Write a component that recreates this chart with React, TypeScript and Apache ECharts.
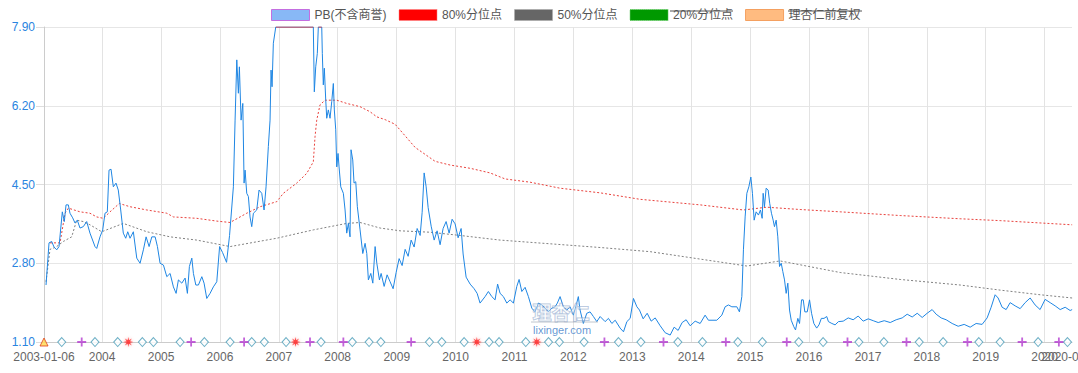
import React, { useEffect, useRef } from "react";
import * as echarts from "echarts";

// PB (excluding goodwill): [decimal year, value]
const pbData: [number, number][] = [
  [2003.048, 2.33], [2003.099, 3.24], [2003.145, 3.27], [2003.184, 3.15], [2003.23, 3.09], [2003.269, 3.16],
  [2003.325, 3.91], [2003.359, 3.7], [2003.388, 4.06], [2003.427, 4.06], [2003.455, 3.88], [2003.501, 3.78],
  [2003.54, 3.67], [2003.579, 3.73], [2003.625, 3.56], [2003.681, 3.59], [2003.739, 3.7], [2003.795, 3.45],
  [2003.88, 3.16], [2003.909, 3.12], [2003.965, 3.37], [2004.011, 3.52], [2004.05, 3.88], [2004.089, 3.91],
  [2004.118, 4.81], [2004.152, 4.83], [2004.191, 4.45], [2004.236, 4.53], [2004.275, 4.38], [2004.316, 3.95],
  [2004.36, 3.45], [2004.401, 3.34], [2004.435, 3.48], [2004.474, 3.34], [2004.53, 3.48], [2004.588, 2.91],
  [2004.644, 2.8], [2004.7, 3.09], [2004.746, 3.37], [2004.797, 3.16], [2004.843, 3.37], [2004.899, 3.37],
  [2004.938, 3.16], [2004.983, 2.8], [2005.04, 2.76], [2005.097, 2.51], [2005.153, 2.58], [2005.209, 2.29],
  [2005.255, 2.15], [2005.294, 2.44], [2005.352, 2.37], [2005.408, 2.48], [2005.447, 2.15], [2005.481, 2.73],
  [2005.522, 2.91], [2005.549, 2.58], [2005.59, 2.33], [2005.634, 2.33], [2005.692, 2.51], [2005.73, 2.37],
  [2005.776, 2.04], [2005.832, 2.15], [2005.888, 2.29], [2005.946, 2.4], [2005.994, 3.16], [2006.045, 3.03],
  [2006.112, 2.82], [2006.163, 3.4], [2006.228, 4.45], [2006.257, 5.89], [2006.286, 7.19], [2006.313, 6.47],
  [2006.33, 7.04], [2006.359, 5.89], [2006.388, 6.25], [2006.41, 4.53], [2006.427, 4.81], [2006.455, 4.31],
  [2006.483, 4.24], [2006.511, 3.8], [2006.54, 3.59], [2006.568, 3.88], [2006.625, 3.95], [2006.664, 4.38],
  [2006.71, 4.31], [2006.749, 3.95], [2006.783, 4.45], [2006.822, 5.32], [2006.851, 5.89], [2006.868, 6.97],
  [2006.885, 6.61], [2006.907, 7.55], [2006.948, 7.9], [2007.191, 7.9], [2007.586, 7.9], [2007.603, 6.5],
  [2007.627, 7.04], [2007.654, 7.33], [2007.671, 7.9], [2007.729, 7.9], [2007.739, 7.33], [2007.756, 6.65],
  [2007.773, 7.01], [2007.797, 6.32], [2007.814, 5.93], [2007.841, 6.11], [2007.87, 5.93], [2007.899, 6.29],
  [2007.926, 6.68], [2007.943, 6.11], [2007.967, 5.68], [2007.984, 4.88], [2008.006, 5.17], [2008.023, 4.88],
  [2008.052, 4.45], [2008.096, 4.31], [2008.125, 3.95], [2008.153, 3.45], [2008.181, 3.66], [2008.209, 3.37],
  [2008.226, 5.25], [2008.255, 5.03], [2008.277, 4.53], [2008.306, 4.56], [2008.333, 4.02], [2008.379, 3.52],
  [2008.425, 3.01], [2008.464, 3.23], [2008.493, 3.01], [2008.52, 2.44], [2008.561, 2.58], [2008.595, 2.37],
  [2008.634, 3.16], [2008.663, 2.8], [2008.707, 2.44], [2008.736, 2.58], [2008.787, 2.3], [2008.837, 2.55],
  [2008.888, 2.4], [2008.939, 2.25], [2008.99, 2.6], [2009.041, 2.9], [2009.092, 2.75], [2009.143, 3.1],
  [2009.194, 2.95], [2009.245, 3.3], [2009.296, 3.15], [2009.347, 3.55], [2009.398, 3.4], [2009.432, 3.9],
  [2009.466, 4.75], [2009.5, 4.45], [2009.534, 4.0], [2009.585, 3.6], [2009.636, 3.3], [2009.686, 3.5],
  [2009.737, 3.2], [2009.788, 3.55], [2009.839, 3.7], [2009.89, 3.45], [2009.941, 3.75], [2009.992, 3.65],
  [2010.043, 3.35], [2010.094, 3.55], [2010.128, 3.0], [2010.179, 2.5], [2010.247, 2.35], [2010.315, 2.25],
  [2010.366, 2.15], [2010.416, 1.94], [2010.501, 2.08], [2010.557, 2.19], [2010.615, 2.08], [2010.671, 2.01],
  [2010.714, 2.35], [2010.756, 2.15], [2010.812, 2.08], [2010.87, 1.94], [2010.926, 2.01], [2010.982, 1.94],
  [2011.04, 2.3], [2011.079, 2.45], [2011.125, 2.19], [2011.181, 2.28], [2011.237, 2.08], [2011.295, 1.83],
  [2011.35, 1.75], [2011.406, 1.94], [2011.464, 1.9], [2011.52, 1.83], [2011.576, 1.75], [2011.634, 1.83],
  [2011.69, 1.86], [2011.729, 1.94], [2011.775, 2.08], [2011.831, 1.86], [2011.889, 1.79], [2011.945, 1.86],
  [2012.001, 1.68], [2012.058, 1.94], [2012.085, 2.08], [2012.114, 1.79], [2012.17, 1.5], [2012.228, 1.72],
  [2012.284, 1.75], [2012.34, 1.65], [2012.398, 1.54], [2012.454, 1.65], [2012.539, 1.54], [2012.595, 1.61],
  [2012.653, 1.5], [2012.709, 1.57], [2012.793, 1.4], [2012.85, 1.32], [2012.907, 1.54], [2012.963, 1.61],
  [2013.019, 2.04], [2013.077, 1.86], [2013.121, 1.79], [2013.184, 1.6], [2013.252, 1.72], [2013.32, 1.55],
  [2013.388, 1.62], [2013.473, 1.45], [2013.558, 1.3], [2013.643, 1.25], [2013.71, 1.42], [2013.778, 1.35],
  [2013.846, 1.52], [2013.914, 1.58], [2013.982, 1.45], [2014.067, 1.55], [2014.152, 1.5], [2014.236, 1.68],
  [2014.292, 1.57], [2014.435, 1.57], [2014.52, 1.68], [2014.576, 1.86], [2014.632, 1.9], [2014.69, 1.86],
  [2014.775, 1.86], [2014.819, 1.75], [2014.86, 2.08], [2014.887, 3.09], [2014.916, 3.8], [2014.945, 4.31],
  [2014.979, 4.45], [2015.013, 4.66], [2015.04, 4.31], [2015.069, 3.73], [2015.103, 3.91], [2015.142, 3.84],
  [2015.176, 3.95], [2015.205, 3.77], [2015.222, 4.31], [2015.244, 4.02], [2015.273, 4.42], [2015.307, 4.38],
  [2015.334, 4.09], [2015.363, 3.88], [2015.392, 3.73], [2015.414, 3.59], [2015.443, 3.73], [2015.471, 3.37],
  [2015.5, 2.73], [2015.529, 2.8], [2015.556, 2.62], [2015.585, 2.44], [2015.613, 2.15], [2015.641, 2.37],
  [2015.67, 1.79], [2015.699, 1.57], [2015.743, 1.43], [2015.772, 1.36], [2015.811, 1.61], [2015.84, 1.5],
  [2015.874, 2.01], [2015.903, 2.01], [2015.93, 1.75], [2015.971, 1.75], [2016.01, 2.01], [2016.044, 1.72],
  [2016.083, 1.5], [2016.131, 1.4], [2016.17, 1.47], [2016.21, 1.61], [2016.255, 1.61], [2016.301, 1.65],
  [2016.33, 1.54], [2016.388, 1.5], [2016.443, 1.47], [2016.5, 1.54], [2016.58, 1.55], [2016.665, 1.62],
  [2016.749, 1.58], [2016.834, 1.66], [2016.919, 1.55], [2017.004, 1.6], [2017.089, 1.56], [2017.174, 1.52],
  [2017.276, 1.56], [2017.378, 1.52], [2017.479, 1.58], [2017.581, 1.62], [2017.666, 1.7], [2017.751, 1.64],
  [2017.836, 1.72], [2017.921, 1.63], [2018.005, 1.72], [2018.09, 1.8], [2018.158, 1.7], [2018.243, 1.62],
  [2018.328, 1.58], [2018.43, 1.5], [2018.532, 1.44], [2018.634, 1.48], [2018.736, 1.42], [2018.837, 1.5],
  [2018.939, 1.48], [2019.024, 1.62], [2019.092, 1.85], [2019.16, 2.12], [2019.211, 2.05], [2019.279, 1.85],
  [2019.347, 1.8], [2019.415, 1.95], [2019.5, 1.88], [2019.585, 1.82], [2019.67, 1.95], [2019.755, 2.05],
  [2019.839, 1.9], [2019.924, 1.8], [2020.009, 2.02], [2020.094, 1.95], [2020.179, 1.88], [2020.264, 1.8],
  [2020.349, 1.85], [2020.433, 1.78], [2020.467, 1.8],
];

// 80% percentile line
const p80Data: [number, number][] = [
  [2003.116, 3.24], [2003.286, 3.24], [2003.371, 3.88], [2003.427, 3.99], [2003.625, 3.91], [2003.795, 3.88],
  [2003.909, 3.8], [2004.021, 3.77], [2004.135, 3.91], [2004.292, 4.09], [2004.474, 4.02], [2004.758, 3.95],
  [2005.097, 3.88], [2005.209, 3.8], [2005.607, 3.77], [2005.946, 3.71], [2006.172, 3.68], [2006.455, 3.88],
  [2006.681, 4.02], [2006.965, 4.13], [2007.077, 4.31], [2007.304, 4.53], [2007.474, 4.74], [2007.586, 4.99],
  [2007.615, 5.53], [2007.644, 5.89], [2007.7, 6.22], [2007.785, 6.32], [2007.984, 6.32], [2008.153, 6.25],
  [2008.379, 6.18], [2008.549, 6.07], [2008.663, 5.96], [2008.804, 5.9], [2008.973, 5.8], [2009.143, 5.55],
  [2009.313, 5.3], [2009.483, 5.15], [2009.652, 5.0], [2009.907, 4.92], [2010.247, 4.85], [2010.586, 4.75],
  [2010.841, 4.62], [2011.265, 4.55], [2011.775, 4.42], [2012.454, 4.32], [2013.133, 4.18], [2013.812, 4.1],
  [2014.152, 4.06], [2014.887, 3.95], [2015.284, 4.01], [2015.85, 3.96], [2016.529, 3.91], [2017.547, 3.83],
  [2018.566, 3.76], [2019.245, 3.72], [2019.924, 3.67], [2020.467, 3.63],
];

// 50% percentile line
const p50Data: [number, number][] = [
  [2003.048, 2.4], [2003.116, 3.1], [2003.218, 3.15], [2003.342, 3.27], [2003.484, 3.37], [2003.569, 3.73],
  [2003.681, 3.7], [2003.795, 3.63], [2003.994, 3.48], [2004.36, 3.66], [2004.758, 3.48], [2005.153, 3.37],
  [2005.607, 3.3], [2006.172, 3.16], [2006.965, 3.34], [2007.586, 3.52], [2008.153, 3.66], [2008.379, 3.68],
  [2008.719, 3.56], [2009.058, 3.5], [2009.568, 3.47], [2010.077, 3.4], [2010.756, 3.3], [2011.605, 3.22],
  [2012.454, 3.14], [2013.303, 3.05], [2014.152, 2.89], [2014.945, 2.74], [2015.51, 2.85], [2016.529, 2.6],
  [2017.547, 2.45], [2018.566, 2.33], [2019.245, 2.22], [2019.924, 2.12], [2020.467, 2.05],
];

// event markers (decimal years)
const startMark = [2003.014];
const diamondMarks = [
  2003.315, 2003.88, 2004.265, 2004.683, 2004.87, 2005.323, 2005.736, 2006.172, 2006.54, 2006.754,
  2007.123, 2007.717, 2008.248, 2008.532, 2008.731, 2009.556, 2009.766, 2010.145, 2010.569, 2010.739,
  2011.192, 2011.579, 2011.763, 2012.182, 2012.765, 2013.145, 2013.773, 2014.191, 2014.792, 2015.209,
  2015.827, 2016.24, 2016.846, 2017.27, 2017.87, 2018.277, 2018.883, 2019.245, 2019.89, 2020.388,
];
const plusMarks = [
  2003.654, 2005.51, 2006.41, 2007.53, 2008.096, 2009.245, 2012.527, 2013.529, 2014.588, 2015.623,
  2016.653, 2017.654, 2018.69, 2019.619, 2020.242,
];
const starMarks = [2004.445, 2007.284, 2010.361, 2011.379];

const yTicks = [1.1, 2.8, 4.5, 6.2, 7.9];
const yearTicks = [2004, 2005, 2006, 2007, 2008, 2009, 2010, 2011, 2012, 2013, 2014, 2015, 2016, 2017, 2018, 2019, 2020];
const startDate = "2003-01-06";
const endDate = "2020-06-19";
const legendNames = ["PB(不含商誉)", "80%分位点", "50%分位点", "20%分位点", "理杏仁前复权"];

const ts = (y: number) => {
  const Y = Math.floor(y);
  const a = Date.UTC(Y, 0, 1);
  const b = Date.UTC(Y + 1, 0, 1);
  return a + (y - Y) * (b - a);
};
const dateTs = (s: string) => {
  const [y, m, d] = s.split("-").map(Number);
  return Date.UTC(y, m - 1, d);
};

const FONT = 'Arial, "Liberation Sans", "Noto Sans CJK SC", sans-serif';
const PLUS = "path://M4,0H6V4H10V6H6V10H4V6H0V4H4Z";
const STAR =
  "path://M10,5L6.66,5.69L8.54,8.54L5.69,6.66L5,10L4.31,6.66L1.46,8.54L3.34,5.69L0,5L3.34,4.31L1.46,1.46L4.31,3.34L5,0L5.69,3.34L8.54,1.46L6.66,4.31Z";

export default function App() {
  const ref = useRef<HTMLDivElement>(null);
  useEffect(() => {
    if (!ref.current) return;
    const chart = echarts.init(ref.current, undefined, { renderer: "svg" });
    const xMin = dateTs(startDate);
    const xMax = dateTs(endDate);
    const xTicks = [xMin, ...yearTicks.map((y) => Date.UTC(y, 0, 1))];
    const yMin = yTicks[0];
    const yMax = yTicks[yTicks.length - 1];
    const mk = (arr: number[]) => arr.map((y) => [ts(y), yMin]);
    const blue = "#1f86e3";
    const labelBase = { hideOverlap: false, color: "#666", fontSize: 12, margin: 9, fontFamily: FONT };
    const option: any = {
      animation: false,
      textStyle: { fontFamily: FONT },
      grid: { left: 44, right: 6, top: 27, bottom: 31, containLabel: false, outerBoundsMode: "none" },
      legend: {
        left: 266,
        top: 4,
        itemWidth: 38,
        itemHeight: 11,
        itemGap: 12,
        selectedMode: false,
        textStyle: { color: "#555", fontSize: 12, fontFamily: FONT },
        data: [
          { name: legendNames[0], icon: "rect", itemStyle: { color: "#88b8f6", borderColor: "#c46ee0", borderWidth: 1 } },
          { name: legendNames[1], icon: "rect", itemStyle: { color: "#ff0000", borderColor: "#ff8080", borderWidth: 1, borderType: "dotted" } },
          { name: legendNames[2], icon: "rect", itemStyle: { color: "#666666", borderColor: "#aaaaaa", borderWidth: 1, borderType: "dotted" } },
          { name: legendNames[3], icon: "rect", itemStyle: { color: "#009900", borderColor: "#66cc66", borderWidth: 1, borderType: "dotted" } },
          { name: legendNames[4], icon: "rect", itemStyle: { color: "#ffbb80", borderColor: "#f4a060", borderWidth: 1 } },
        ],
      },
      xAxis: [
        {
          type: "value",
          min: xMin,
          max: xMax,
          axisLine: { show: true, lineStyle: { color: "#cccccc" } },
          axisTick: { show: false, customValues: xTicks },
          splitLine: { show: true, lineStyle: { color: "#e3e3e3", width: 1 } },
          axisLabel: {
            ...labelBase,
            customValues: xTicks,
            showMinLabel: true,
            formatter: (v: number) => (v === xMin ? startDate : String(new Date(v).getUTCFullYear())),
          },
        },
        {
          type: "value",
          min: xMin,
          max: xMax,
          position: "bottom",
          axisLine: { show: false },
          axisTick: { show: false, customValues: [xMax] },
          splitLine: { show: false },
          axisLabel: {
            ...labelBase,
            customValues: [xMax],
            showMaxLabel: true,
            formatter: () => endDate,
          },
        },
      ],
      yAxis: {
        type: "value",
        min: yMin,
        max: yMax,
        axisLine: { show: true, lineStyle: { color: "#cccccc" } },
        axisTick: { show: true, length: 8, customValues: yTicks, lineStyle: { color: "#dddddd" } },
        splitLine: { show: true, lineStyle: { color: "#e6e6e6" } },
        axisLabel: {
          customValues: yTicks,
          color: "#2a84e0",
          fontSize: 12,
          margin: 9,
          fontFamily: FONT,
          formatter: (v: number) => v.toFixed(2),
        },
      },
      graphic: [
        { type: "line", shape: { x1: 670, y1: 11, x2: 733, y2: 11 }, style: { stroke: "#555", lineWidth: 1 }, silent: true },
        { type: "line", shape: { x1: 788, y1: 11, x2: 862, y2: 11 }, style: { stroke: "#555", lineWidth: 1 }, silent: true },
        {
          type: "text", left: 532, top: 301, silent: true, z: 100,
          style: { text: "理杏仁", fontSize: 19, fontWeight: "bold", fill: "rgba(255,255,255,0.35)", stroke: "rgba(120,150,195,0.6)", lineWidth: 1, fontFamily: '"Noto Sans CJK SC", sans-serif' },
        },
        { type: "line", shape: { x1: 531, y1: 322, x2: 598, y2: 322 }, style: { stroke: "rgba(150,160,175,0.6)", lineWidth: 1 }, silent: true, z: 100 },
        {
          type: "text", left: 533, top: 324, silent: true, z: 100,
          style: { text: "lixinger.com", fontSize: 11, fill: "rgba(60,125,200,0.8)", fontFamily: FONT },
        },
      ],
      series: [
        {
          name: legendNames[0], type: "line", symbol: "none", showSymbol: false, z: 4,
          lineStyle: { width: 1, color: blue }, itemStyle: { color: blue },
          data: pbData.map(([y, v]) => [ts(y), v]),
        },
        {
          name: "capped", type: "line", symbol: "none", showSymbol: false, z: 5, silent: true,
          lineStyle: { width: 1.2, color: "#e0262c" },
          data: pbData.map(([y, v]) => [ts(y), v >= yMax ? v : null]),
        },
        {
          name: legendNames[1], type: "line", symbol: "none", showSymbol: false, z: 3,
          lineStyle: { width: 1, color: "#e8413c", type: [2, 2] }, itemStyle: { color: "#ff0000" },
          data: p80Data.map(([y, v]) => [ts(y), v]),
        },
        {
          name: legendNames[2], type: "line", symbol: "none", showSymbol: false, z: 3,
          lineStyle: { width: 1, color: "#808080", type: [2, 2] }, itemStyle: { color: "#666666" },
          data: p50Data.map(([y, v]) => [ts(y), v]),
        },
        { name: legendNames[3], type: "line", symbol: "none", data: [], itemStyle: { color: "#009900" } },
        { name: legendNames[4], type: "line", symbol: "none", data: [], itemStyle: { color: "#ffbb80" } },
        {
          name: "start", type: "scatter", symbol: "triangle", symbolSize: 8, z: 6, silent: true,
          itemStyle: { color: "#ffd84d", borderColor: "#e0401a", borderWidth: 1 },
          data: mk(startMark),
        },
        {
          name: "diamond", type: "scatter", symbol: "diamond", symbolSize: [8, 9], z: 6, silent: true,
          itemStyle: { color: "#ffffff", borderColor: "#4a9cb8", borderWidth: 1 },
          data: mk(diamondMarks),
        },
        {
          name: "plus", type: "scatter", symbol: PLUS, symbolSize: 9, z: 6, silent: true,
          itemStyle: { color: "#b43cd0" },
          data: mk(plusMarks),
        },
        {
          name: "star", type: "scatter", symbol: STAR, symbolSize: 10, z: 6, silent: true,
          itemStyle: { color: "#ff2222", shadowColor: "rgba(255,80,80,0.6)", shadowBlur: 3 },
          data: mk(starMarks),
        },
      ],
    };
    chart.setOption(option);
    return () => chart.dispose();
  }, []);
  return (
    <div
      ref={ref}
      style={{ position: "absolute", left: 0, top: 0, width: 1078, height: 373, background: "#fff" }}
    />
  );
}
